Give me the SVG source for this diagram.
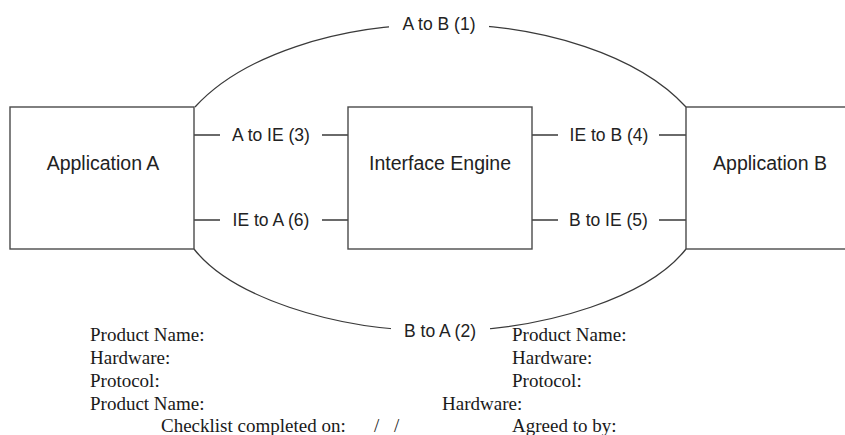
<svg xmlns="http://www.w3.org/2000/svg" width="845" height="435" viewBox="0 0 845 435">
  <style>
    .box { fill: #ffffff; stroke: #4a4a4a; stroke-width: 1.4; }
    .wire { fill: none; stroke: #3a3a3a; stroke-width: 1.3; }
    .boxlabel { font-family: "Liberation Sans", Arial, sans-serif; font-size: 19.5px; fill: #222; text-anchor: middle; }
    .wirelabel { font-family: "Liberation Sans", Arial, sans-serif; font-size: 17.5px; fill: #222; text-anchor: middle; }
    .form { font-family: "Liberation Serif", "Times New Roman", serif; font-size: 19px; fill: #1a1a1a; }
    .gap { fill: #ffffff; }
  </style>

  <rect width="845" height="435" fill="#ffffff"/>

  <!-- connectors -->
  <g id="connectors">
    <!-- direct A to B over the top -->
    <path class="wire" d="M195,107 A274,149 0 0,1 686,107"/>
    <rect class="gap" x="389" y="12" width="100" height="26"/>
    <text class="wirelabel" x="439" y="30">A to B (1)</text>

    <!-- direct B to A under the bottom -->
    <path class="wire" d="M194,249 C230,295 330,331 440,331 C550,331 650,295 686,249"/>
    <rect class="gap" x="391" y="318" width="99" height="24"/>
    <text class="wirelabel" x="440" y="337">B to A (2)</text>

    <!-- A to interface engine -->
    <path class="wire" d="M194,135 H220 M322,135 H348"/>
    <text class="wirelabel" x="271" y="141">A to IE (3)</text>

    <!-- interface engine to B -->
    <path class="wire" d="M532,135 H558 M659,135 H686"/>
    <text class="wirelabel" x="609" y="141">IE to B (4)</text>

    <!-- B to interface engine -->
    <path class="wire" d="M532,220 H558 M659,220 H686"/>
    <text class="wirelabel" x="608.5" y="226">B to IE (5)</text>

    <!-- interface engine to A -->
    <path class="wire" d="M194,220 H220 M322,220 H348"/>
    <text class="wirelabel" x="271" y="226">IE to A (6)</text>
  </g>

  <g id="app-a">
    <rect class="box" x="10" y="107" width="184" height="142"/>
    <text class="boxlabel" x="103" y="170">Application A</text>
  </g>

  <g id="interface-engine">
    <rect class="box" x="348" y="107" width="184" height="142"/>
    <text class="boxlabel" x="440" y="170">Interface Engine</text>
  </g>

  <g id="app-b">
    <rect class="box" x="686" y="107" width="200" height="142"/>
    <text class="boxlabel" x="770" y="170">Application B</text>
  </g>

  <!-- checklist form fields -->
  <g id="form">
    <text class="form" x="90" y="341">Product Name:</text>
    <text class="form" x="90" y="364">Hardware:</text>
    <text class="form" x="90" y="387">Protocol:</text>
    <text class="form" x="90" y="410">Product Name:</text>
    <text class="form" x="161" y="432">Checklist completed on:<tspan x="374">/</tspan><tspan x="394">/</tspan></text>

    <text class="form" x="512" y="341">Product Name:</text>
    <text class="form" x="512" y="364">Hardware:</text>
    <text class="form" x="512" y="387">Protocol:</text>
    <text class="form" x="442" y="410">Hardware:</text>
    <text class="form" x="512" y="432">Agreed to by:</text>
  </g>
</svg>
